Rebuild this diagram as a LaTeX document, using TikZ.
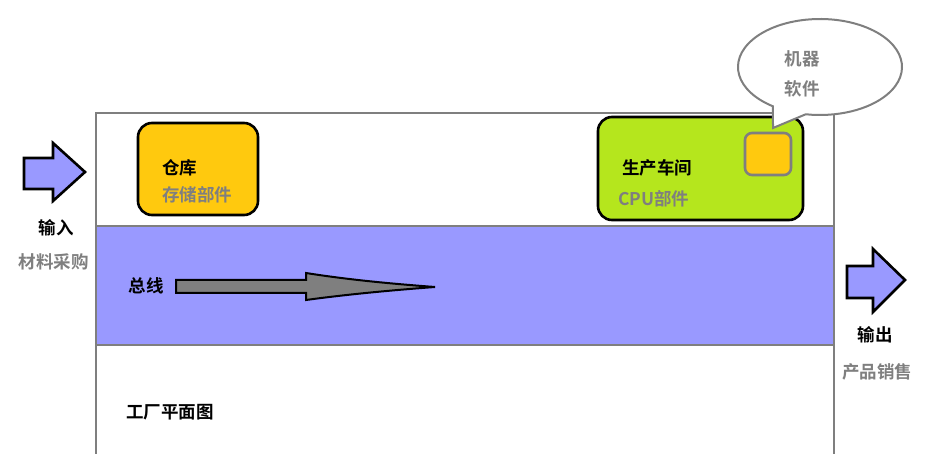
\documentclass[tikz,border=0pt]{standalone}
\usepackage{fontspec}
\setmainfont{Noto Sans CJK SC}[BoldFont={Noto Sans CJK SC Bold}]
\usetikzlibrary{calc}
\definecolor{bandblue}{HTML}{9999FF}
\definecolor{boxorange}{HTML}{FFC90E}
\definecolor{boxgreen}{HTML}{B5E61D}
\definecolor{txtgray}{HTML}{7F7F7F}
\definecolor{framegray}{HTML}{7F7F7F}
\begin{document}
\begin{tikzpicture}[x=1pt,y=-1pt,
  lbl/.style={font=\fontsize{17.5}{19}\selectfont\bfseries, inner sep=0pt, text=black},
  sublbl/.style={lbl, text=txtgray},
  rbox/.style={draw=black, line width=2.6pt, rounded corners=14pt, inner sep=0pt},
  blockarrow/.style={draw=black, line width=2.6pt, fill=bandblue, line join=miter},
  frameline/.style={draw=framegray, line width=1.3pt}
]
\useasboundingbox (0,0) rectangle (930,454);
% frame and band
\fill[white] (96,113) rectangle (834,454);
\fill[bandblue] (96,226) rectangle (834,345);
\draw[frameline] (96,454) -- (96,113) -- (834,113) -- (834,454);
\draw[frameline] (96,226) -- (834,226);
\draw[frameline] (96,345) -- (834,345);
% warehouse
\node[rbox, fill=boxorange, minimum width=120pt, minimum height=92pt] (wh) at (198,169) {};
\node[lbl, anchor=west] (whT) at (162,168) {仓库};
\node[sublbl, anchor=west] (whS) at (162,195) {存储部件};
% production
\node[rbox, fill=boxgreen, minimum width=205pt, minimum height=103pt] (pr) at (700.5,168.5) {};
\node[lbl, anchor=west] (prT) at (622,168) {生产车间};
\node[sublbl, anchor=west] (prS) at (618,199) {CPU部件};
\node[draw=txtgray, line width=2.6pt, fill=boxorange, rounded corners=7pt, minimum width=46pt, minimum height=42pt, inner sep=0pt] (sq) at (768,154) {};
% speech bubble
\coordinate (bc) at (820,67);
\coordinate (tip) at (773,128);
\draw[draw=txtgray, line width=2pt, fill=white, line join=miter]
  ([shift={(125:82 and 48)}]bc) arc[start angle=125, end angle=460, x radius=82, y radius=48]
  -- (tip) -- cycle;
\node[sublbl] (m1) at (802,59) {机器};
\node[sublbl] (m2) at (802,89) {软件};
% input arrow
\draw[blockarrow] (24,158) -- (53,158) -- (53,143) -- (85,172) -- (53,201) -- (53,189) -- (24,189) -- cycle;
\node[lbl] (inT) at (56,228) {输入};
\node[sublbl] (inS) at (54,262) {材料采购};
% output arrow
\draw[blockarrow] (847,266) -- (873,266) -- (873,249) -- (905,280) -- (873,312) -- (873,298) -- (847,298) -- cycle;
\node[lbl] (outT) at (875,335) {输出};
\node[sublbl] (outS) at (877,372) {产品销售};
% bus
\node[lbl] (bus) at (146,286) {总线};
\draw[draw=black, line width=2pt, fill=txtgray, line join=miter]
  (176,280) -- (306,280) -- (306,273) .. controls (350,280) and (395,284) .. (435,287)
  .. controls (395,290) and (350,294) .. (306,300) -- (306,293) -- (176,293) -- cycle;
% plan title
\node[lbl] (plan) at (170,412) {工厂平面图};
\end{tikzpicture}
\end{document}
